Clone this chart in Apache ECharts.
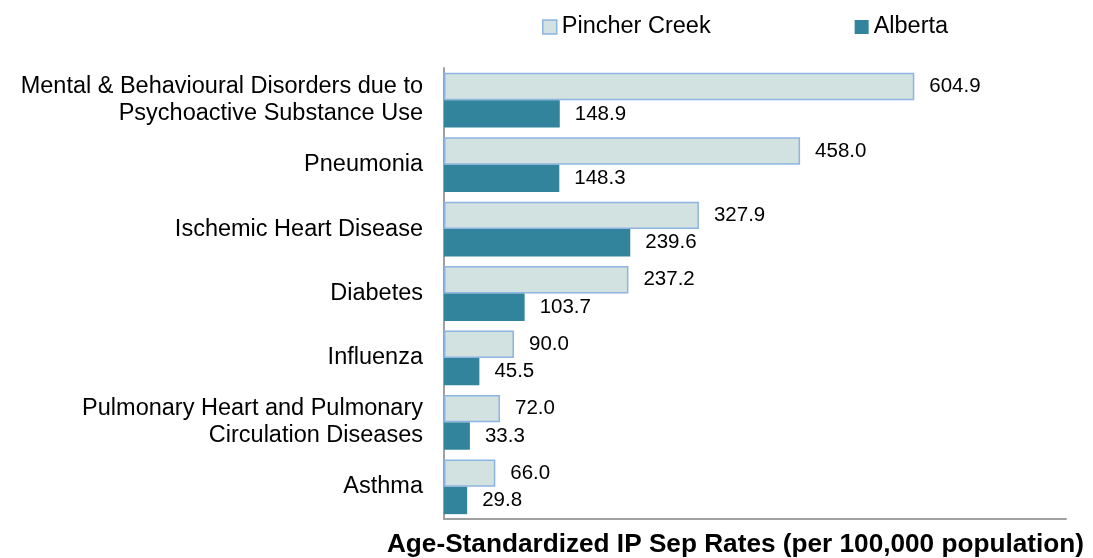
<!DOCTYPE html>
<html>
<head>
<meta charset="utf-8">
<script src="https://cdn.jsdelivr.net/npm/echarts@6/dist/echarts.min.js"></script>
<style>html,body{margin:0;padding:0;background:#fff}#c{width:1093px;height:558px}</style>
</head>
<body>
<div id="c"></div>
<script>
var categories = [
  'Mental & Behavioural Disorders due to\nPsychoactive Substance Use',
  'Pneumonia',
  'Ischemic Heart Disease',
  'Diabetes',
  'Influenza',
  'Pulmonary Heart and Pulmonary\nCirculation Diseases',
  'Asthma'
];
var pincherCreek = [604.9, 458.0, 327.9, 237.2, 90.0, 72.0, 66.0];
var alberta = [148.9, 148.3, 239.6, 103.7, 45.5, 33.3, 29.8];
var seriesNames = ['Pincher Creek', 'Alberta'];
var axisTitle = 'Age-Standardized IP Sep Rates (per 100,000 population)';

var font = '"Liberation Sans", Arial, sans-serif';
var chart = echarts.init(document.getElementById('c'));
var labelCfg = {
  show: true, position: 'right', distance: 15,
  color: '#000', fontSize: 20.5, fontFamily: font,
  formatter: function (p) { return p.value.toFixed(1); }
};
chart.setOption({
  animation: false,
  textStyle: { fontFamily: font },
  title: {
    text: axisTitle, right: 4, top: 527,
    textStyle: { fontSize: 26.2, fontWeight: 'bold', color: '#000', fontFamily: font }
  },
  legend: {
    top: 10, left: 537, itemGap: 144, itemWidth: 14, itemHeight: 14,
    textStyle: { fontSize: 23.5, color: '#000', fontFamily: font },
    data: [
      { name: seriesNames[0], icon: 'rect', itemStyle: { color: '#D2E2E0', borderColor: '#8DB4E2', borderWidth: 1.5 } },
      { name: seriesNames[1], icon: 'rect', itemStyle: { color: '#31849B' } }
    ]
  },
  grid: { left: 444, right: 27, top: 68, bottom: 39, containLabel: false },
  xAxis: {
    type: 'value', min: 0, max: 800,
    axisLine: { show: true, lineStyle: { color: '#A0A0A0', width: 2 } },
    axisTick: { show: false }, axisLabel: { show: false }, splitLine: { show: false }
  },
  yAxis: {
    type: 'category', data: categories, inverse: true,
    axisLine: { show: true, lineStyle: { color: '#A0A0A0', width: 2 } },
    axisTick: { show: false },
    axisLabel: { color: '#000', fontSize: 23.5, fontFamily: font, margin: 21, lineHeight: 27, align: 'right' }
  },
  series: [
    {
      name: seriesNames[0], type: 'bar', data: pincherCreek,
      barGap: '0%', barCategoryGap: '15%',
      itemStyle: { color: '#D2E2E0', borderColor: '#8DB4E2', borderWidth: 1.5 },
      label: labelCfg
    },
    {
      name: seriesNames[1], type: 'bar', data: alberta,
      barGap: '0%', barCategoryGap: '15%',
      itemStyle: { color: '#31849B' },
      label: labelCfg
    }
  ]
});
</script>
</body>
</html>
